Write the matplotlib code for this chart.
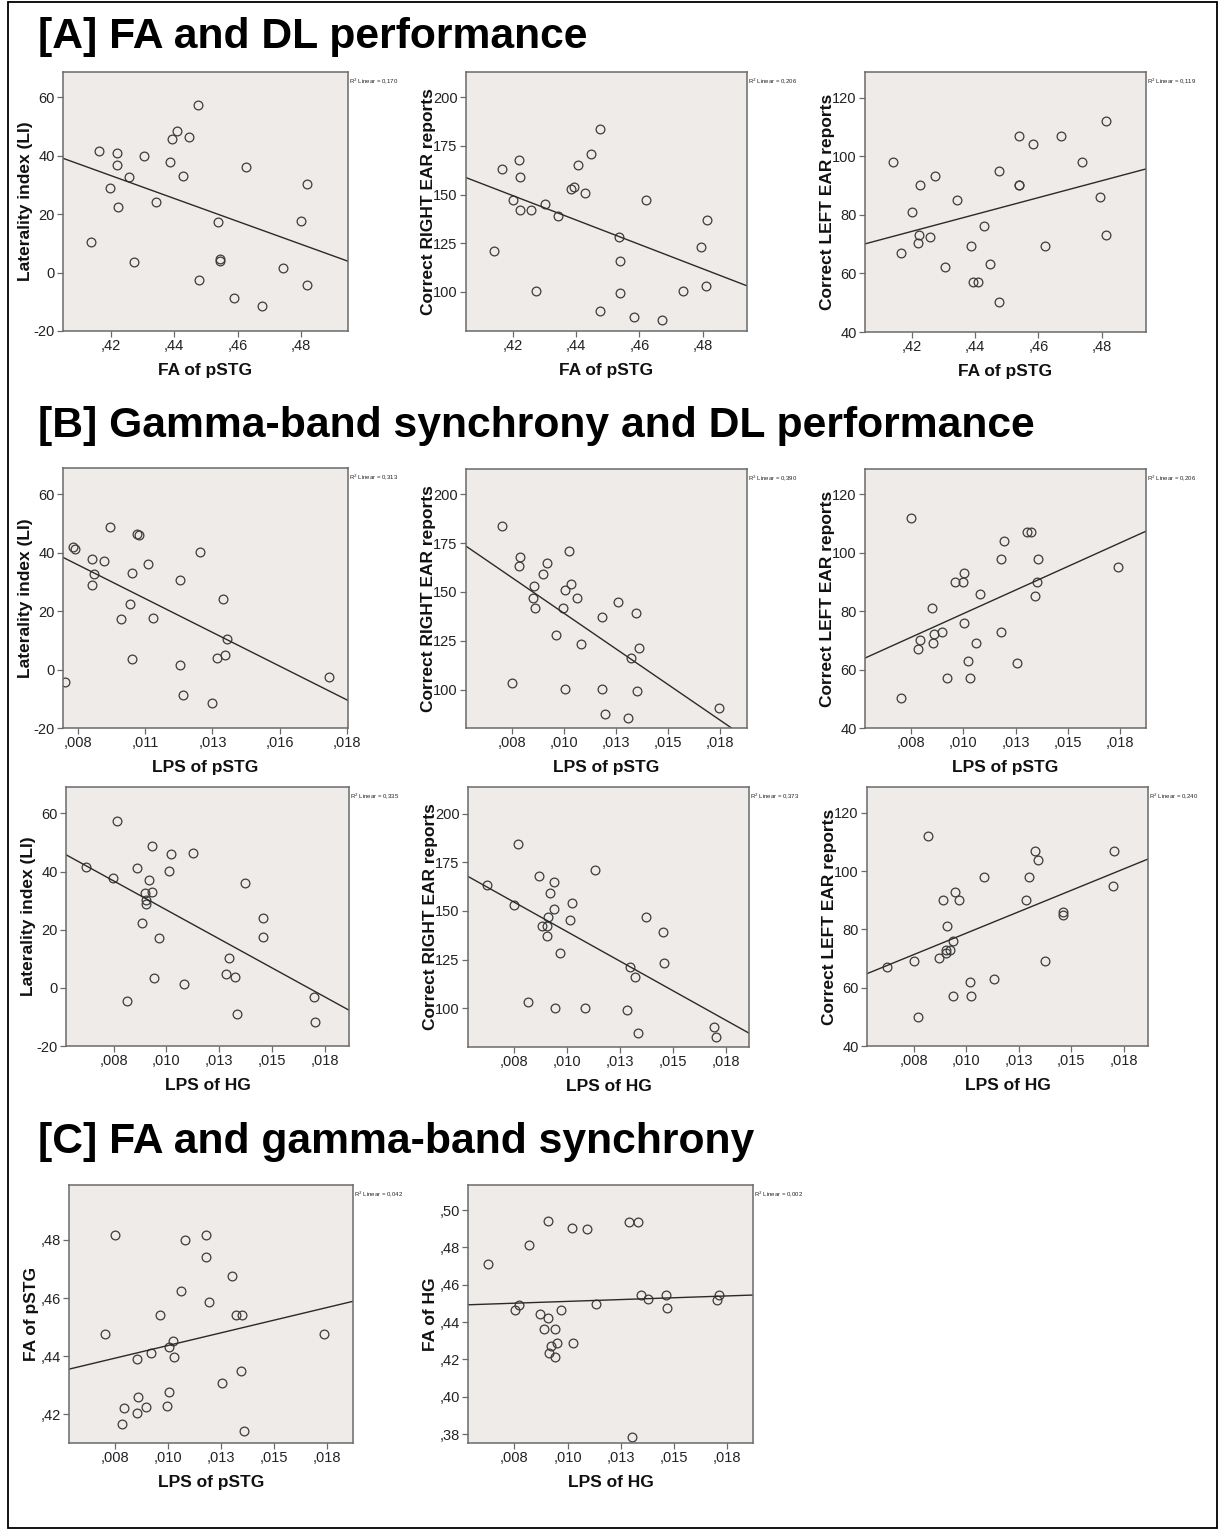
import matplotlib
matplotlib.use('Agg')
import matplotlib.pyplot as plt
import numpy as np
from decimal import Decimal, ROUND_HALF_UP
from matplotlib.ticker import FixedLocator, FuncFormatter
from matplotlib.patches import Rectangle

plt.rcParams['font.family'] = ['Liberation Sans', 'DejaVu Sans']

# ---------------- data ----------------
# [A] FA of pSTG vs behaviour
a_fa = [0.4137, 0.4163, 0.4199, 0.4219, 0.4221, 0.4224, 0.4257, 0.4274, 0.4304, 0.4344,
        0.4387, 0.4394, 0.4408, 0.4429, 0.4448, 0.4476, 0.4478, 0.4539, 0.4543, 0.4543,
        0.4587, 0.4625, 0.4676, 0.4741, 0.4799, 0.4818, 0.4817]
a1_li = [10.6, 41.8, 28.9, 41.1, 37.0, 22.5, 32.7, 3.7, 40.1, 24.1,
         37.8, 45.9, 48.6, 33.0, 46.4, 57.3, -2.7, 17.4, 4.8, 4.0,
         -8.8, 36.1, -11.4, 1.5, 17.7, 30.5, -4.1]
a2_fa = [0.4140, 0.4165, 0.4220, 0.4222, 0.4200, 0.4224, 0.4257, 0.4274, 0.4303, 0.4344,
         0.4385, 0.4392, 0.4407, 0.4428, 0.4447, 0.4474, 0.4475, 0.4536, 0.4540, 0.4540,
         0.4584, 0.4621, 0.4672, 0.4736, 0.4794, 0.4812, 0.4811]
a2_right = [121.2, 163.0, 168.0, 158.9, 147.1, 142.1, 142.1, 100.2, 145.0, 139.0,
            152.9, 154.0, 165.0, 151.0, 171.0, 183.9, 90.2, 128.0, 116.0, 99.1,
            87.2, 147.0, 85.3, 100.2, 123.1, 137.0, 103.0]
a3_fa = [0.4140, 0.4166, 0.4201, 0.4222, 0.4220, 0.4225, 0.4258, 0.4275, 0.4304, 0.4344,
         0.4387, 0.4393, 0.4408, 0.4428, 0.4447, 0.4475, 0.4475, 0.4538, 0.4540, 0.4540,
         0.4584, 0.4622, 0.4672, 0.4736, 0.4794, 0.4812, 0.4813]
a3_left = [98.1, 67.1, 81.1, 73.2, 70.2, 90.0, 72.3, 93.1, 62.2, 85.1,
           69.2, 57.2, 57.2, 76.1, 63.2, 95.0, 50.3, 90.1, 90.1, 107.0,
           104.0, 69.2, 107.0, 98.1, 86.0, 112.0, 73.2]

# [B] LPS of pSTG vs behaviour
b1_lps = [0.00704, 0.00751, 0.00781, 0.00789, 0.00853, 0.00860, 0.00850, 0.00895, 0.00918, 0.00960,
          0.00993, 0.01002, 0.01000, 0.01020, 0.01028, 0.01059, 0.01080, 0.01178, 0.01178, 0.01189,
          0.01254, 0.01300, 0.01316, 0.01340, 0.01346, 0.01355, 0.01733]
b1_li = [57.3, -4.2, 41.8, 41.1, 37.8, 32.7, 28.9, 37.0, 48.7, 17.4,
         22.4, 32.9, 3.7, 46.4, 45.9, 36.0, 17.7, 30.5, 1.5, -8.8,
         40.1, -11.4, 4.1, 24.1, 4.8, 10.5, -2.6]
b2_lps = [0.00704, 0.00750, 0.00784, 0.00792, 0.00856, 0.00854, 0.00860, 0.00899, 0.00921, 0.00964,
          0.00995, 0.01004, 0.01004, 0.01025, 0.01032, 0.01064, 0.01083, 0.01182, 0.01182, 0.01195,
          0.01260, 0.01307, 0.01323, 0.01345, 0.01350, 0.01361, 0.01742]
b2_right = [183.9, 103.2, 163.1, 168.0, 153.2, 147.0, 142.0, 159.0, 165.0, 128.2,
            142.0, 151.1, 100.3, 170.9, 154.0, 147.0, 123.1, 137.1, 100.3, 87.4,
            145.1, 85.3, 116.1, 139.1, 99.3, 121.2, 90.3]
b3_lps = [0.00704, 0.00750, 0.00783, 0.00791, 0.00852, 0.00855, 0.00860, 0.00898, 0.00921, 0.00962,
          0.00996, 0.01004, 0.01005, 0.01024, 0.01031, 0.01061, 0.01082, 0.01181, 0.01181, 0.01193,
          0.01257, 0.01305, 0.01321, 0.01350, 0.01343, 0.01358, 0.01740]
b3_left = [50.3, 112.0, 67.1, 70.1, 81.1, 69.2, 72.1, 73.0, 57.2, 90.0,
           90.0, 93.0, 76.1, 63.1, 57.2, 69.2, 86.0, 98.0, 73.0, 103.9,
           62.1, 107.0, 107.0, 90.0, 85.1, 98.0, 95.0]

# [B] LPS of HG vs behaviour
b4_lps = [0.00618, 0.00747, 0.00766, 0.00815, 0.00863, 0.00884, 0.00900, 0.00903, 0.00906, 0.00917,
          0.00934, 0.00934, 0.00944, 0.00964, 0.01015, 0.01022, 0.01084, 0.01128, 0.01282, 0.01298,
          0.01325, 0.01337, 0.01374, 0.01457, 0.01460, 0.01698, 0.01706]
b4_li = [41.7, 37.8, 57.3, -4.4, 41.2, 22.3, 32.6, 30.3, 28.8, 37.1,
         33.0, 48.7, 3.4, 17.3, 40.1, 45.9, 1.4, 46.4, 4.6, 10.4,
         3.9, -9.1, 36.1, 24.0, 17.6, -3.0, -11.7]
b5_lps = [0.00624, 0.00750, 0.00769, 0.00818, 0.00868, 0.00884, 0.00903, 0.00906, 0.00909, 0.00920,
          0.00936, 0.00937, 0.00945, 0.00966, 0.01015, 0.01022, 0.01085, 0.01130, 0.01281, 0.01296,
          0.01322, 0.01336, 0.01370, 0.01454, 0.01457, 0.01692, 0.01700]
b5_right = [163.1, 153.1, 184.2, 103.1, 168.2, 142.3, 142.3, 137.1, 147.1, 159.1,
            151.2, 165.1, 100.0, 128.2, 145.2, 154.1, 100.0, 171.1, 99.0, 121.1,
            116.2, 87.1, 147.1, 139.2, 123.2, 90.2, 85.1]
b6_lps = [0.00625, 0.00752, 0.00771, 0.00818, 0.00869, 0.00889, 0.00903, 0.00903, 0.00922, 0.00910,
          0.00937, 0.00938, 0.00948, 0.00968, 0.01017, 0.01025, 0.01087, 0.01131, 0.01285, 0.01300,
          0.01326, 0.01340, 0.01375, 0.01459, 0.01460, 0.01697, 0.01706]
b6_left = [67.0, 69.1, 50.1, 112.1, 70.1, 90.0, 72.0, 73.1, 73.1, 81.1,
           75.9, 57.0, 93.0, 90.0, 62.0, 57.0, 98.0, 63.0, 90.0, 98.0,
           106.9, 104.0, 69.1, 86.0, 85.0, 95.0, 106.9]

# [C] FA vs gamma-band synchrony
c1_lps = [0.00705, 0.00752, 0.00784, 0.00791, 0.00852, 0.00855, 0.00861, 0.00897, 0.00921, 0.00963,
          0.00995, 0.01004, 0.01004, 0.01023, 0.01029, 0.01060, 0.01081, 0.01181, 0.01181, 0.01192,
          0.01256, 0.01303, 0.01319, 0.01342, 0.01349, 0.01357, 0.01736]
c1_fa = [0.4478, 0.4816, 0.4169, 0.4224, 0.4205, 0.4391, 0.4261, 0.4225, 0.4412, 0.4541,
         0.4229, 0.4431, 0.4278, 0.4451, 0.4397, 0.4626, 0.4799, 0.4817, 0.4740, 0.4588,
         0.4308, 0.4676, 0.4543, 0.4348, 0.4543, 0.4143, 0.4478]
c2_lps = [0.00626, 0.00755, 0.00774, 0.00821, 0.00871, 0.00890, 0.00907, 0.00910, 0.00913, 0.00924,
          0.00940, 0.00940, 0.00951, 0.00971, 0.01020, 0.01027, 0.01092, 0.01136, 0.01290, 0.01303,
          0.01330, 0.01344, 0.01378, 0.01463, 0.01466, 0.01703, 0.01711]
c2_fa = [0.4711, 0.4465, 0.4492, 0.4811, 0.4444, 0.4362, 0.4422, 0.4943, 0.4235, 0.4274,
         0.4362, 0.4212, 0.4285, 0.4462, 0.4904, 0.4285, 0.4900, 0.4494, 0.4938, 0.3784,
         0.4938, 0.4545, 0.4524, 0.4547, 0.4476, 0.4519, 0.4547]

r2_labels = ['0,170', '0,206', '0,119', '0,313', '0,390', '0,206',
             '0,335', '0,373', '0,240', '0,042', '0,002']

fa_ticks = [0.42, 0.44, 0.46, 0.48]
fahg_ticks = [0.38, 0.40, 0.42, 0.44, 0.46, 0.48, 0.50]
lps_ticks = [0.0075, 0.0100, 0.0125, 0.0150, 0.0175]
lps_ticks_b1 = [0.0080, 0.0105, 0.0130, 0.0155, 0.0180]
li_ticks = [-20, 0, 20, 40, 60]
right_ticks = [100, 125, 150, 175, 200]
left_ticks = [40, 60, 80, 100, 120]

titles = ['[A] FA and DL performance',
          '[B] Gamma-band synchrony and DL performance',
          '[C] FA and gamma-band synchrony']

# ---------------- layout ----------------
W, H = 1221, 1531
fig = plt.figure(figsize=(W / 100, H / 100), dpi=100)
fig.patch.set_facecolor('white')

BG = '#eeebe9'
EDGE = '#6a6a6a'
PT = '#3c3c3c'


def spss_fmt(nd):
    def f(v, pos=None):
        if nd == 0:
            return '%d' % round(float(v))
        q = Decimal(str(round(float(v), 6))).quantize(Decimal(1).scaleb(-nd), rounding=ROUND_HALF_UP)
        s = str(q)
        if s.startswith('0.'):
            s = s[1:]
        elif s.startswith('-0.'):
            s = '-' + s[2:]
        return s.replace('.', ',')
    return f


panels = [
    # box (l, t, r, b) px, x, y, xlim, ylim, xticks, yticks, xdec, ydec, xlabel, ylabel
    ((63, 72, 348, 331), a_fa, a1_li, (0.4050, 0.4947), (-20, 68.7), fa_ticks, li_ticks, 2, 0,
     'FA of pSTG', 'Laterality index (LI)'),
    ((466, 72, 747, 331), a2_fa, a2_right, (0.4053, 0.4939), (79.8, 213), fa_ticks, right_ticks, 2, 0,
     'FA of pSTG', 'Correct RIGHT EAR reports'),
    ((865, 72, 1146, 332), a3_fa, a3_left, (0.4053, 0.4939), (40, 128.7), fa_ticks, left_ticks, 2, 0,
     'FA of pSTG', 'Correct LEFT EAR reports'),
    ((63, 468, 348, 728), b1_lps, b1_li, (0.00744, 0.01804), (-20, 68.9), lps_ticks_b1, li_ticks, 3, 0,
     'LPS of pSTG', 'Laterality index (LI)'),
    ((466, 469, 747, 728), b2_lps, b2_right, (0.00531, 0.01878), (80.3, 213), lps_ticks, right_ticks, 3, 0,
     'LPS of pSTG', 'Correct RIGHT EAR reports'),
    ((865, 469, 1146, 728), b3_lps, b3_left, (0.00530, 0.01873), (40, 128.7), lps_ticks, left_ticks, 3, 0,
     'LPS of pSTG', 'Correct LEFT EAR reports'),
    ((66, 787, 349, 1046), b4_lps, b4_li, (0.00525, 0.01865), (-20, 69.1), lps_ticks, li_ticks, 3, 0,
     'LPS of HG', 'Laterality index (LI)'),
    ((468, 787, 749, 1047), b5_lps, b5_right, (0.00533, 0.01857), (80.1, 213.7), lps_ticks, right_ticks, 3, 0,
     'LPS of HG', 'Correct RIGHT EAR reports'),
    ((867, 787, 1148, 1046), b6_lps, b6_left, (0.00528, 0.01866), (40, 128.9), lps_ticks, left_ticks, 3, 0,
     'LPS of HG', 'Correct LEFT EAR reports'),
    ((69, 1185, 353, 1443), c1_lps, c1_fa, (0.00534, 0.01871), (0.4102, 0.4989), lps_ticks, fa_ticks, 3, 2,
     'LPS of pSTG', 'FA of pSTG'),
    ((468, 1185, 753, 1443), c2_lps, c2_fa, (0.00532, 0.01872), (0.3752, 0.5134), lps_ticks, fahg_ticks, 3, 2,
     'LPS of HG', 'FA of HG'),
]

for i, (box, xs, ys, xl, yl, xt, yt, xd, yd, xlab, ylab) in enumerate(panels):
    l, t, r, b = box
    ax = fig.add_axes([l / W, 1 - b / H, (r - l) / W, (b - t) / H])
    ax.set_facecolor(BG)
    x = np.asarray(xs)
    y = np.asarray(ys)
    ax.plot(x, y, 'o', mfc='none', mec=PT, ms=6.3, mew=0.9, clip_on=True)
    k, c = np.polyfit(x, y, 1)
    xx = np.array(xl)
    ax.plot(xx, k * xx + c, '-', color='#2a2a2a', lw=1.0)
    ax.set_xlim(xl)
    ax.set_ylim(yl)
    ax.xaxis.set_major_locator(FixedLocator(xt))
    ax.yaxis.set_major_locator(FixedLocator(yt))
    ax.xaxis.set_major_formatter(FuncFormatter(spss_fmt(xd)))
    ax.yaxis.set_major_formatter(FuncFormatter(spss_fmt(yd)))
    ax.tick_params(axis='both', direction='out', length=4, width=0.9, color=EDGE,
                   labelsize=10.5, labelcolor='#222222', pad=2)
    for s in ax.spines.values():
        s.set_color(EDGE)
        s.set_linewidth(1.1)
    ax.set_xlabel(xlab, fontsize=12.5, fontweight='bold', labelpad=7, color='#111111')
    ax.set_ylabel(ylab, fontsize=12.5, fontweight='bold', color='#111111')
    ax.yaxis.set_label_coords(-30.0 / (r - l), 0.5)
    ax.text(1.002, 0.985, r'R$^2$ Linear = ' + r2_labels[i], transform=ax.transAxes,
            fontsize=4.3, ha='left', va='top', color='#222222')

# section titles
fig.text(38 / W, 1 - 48 / H, titles[0], fontsize=30.7, fontweight='bold', va='baseline')
fig.text(38 / W, 1 - 437 / H, titles[1], fontsize=30.7, fontweight='bold', va='baseline')
fig.text(38 / W, 1 - 1153 / H, titles[2], fontsize=30.7, fontweight='bold', va='baseline')

# outer frame
fig.add_artist(Rectangle((8 / W, 1 - 1528 / H), (1217 - 8) / W, (1528 - 2) / H,
                         transform=fig.transFigure, fill=False, lw=1.3, ec='black'))

fig.savefig('out.png', dpi=100, facecolor='white')
